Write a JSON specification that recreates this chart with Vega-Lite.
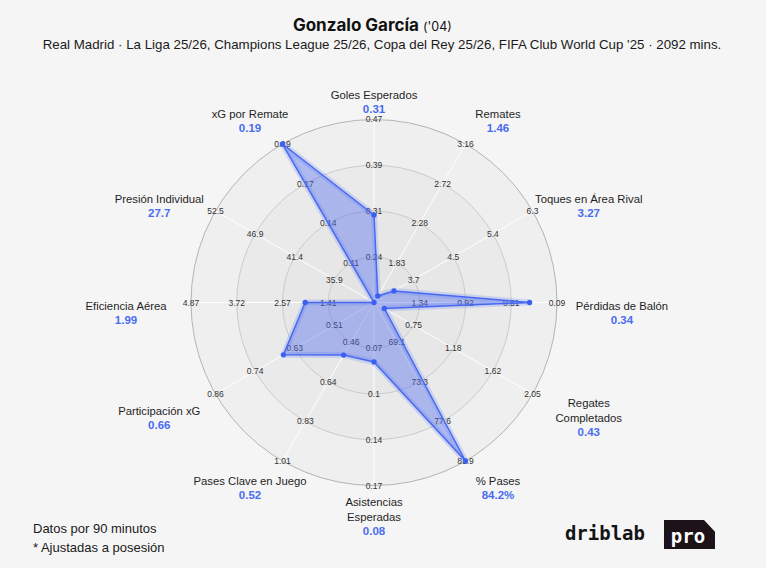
{
  "$schema": "https://vega.github.io/schema/vega-lite/v6.json",
  "width": 766,
  "height": 568,
  "padding": 0,
  "autosize": {"type": "none"},
  "background": "#f5f5f5",
  "config": {"view": {"stroke": null}, "text": {"font": "Liberation Sans"}},
  "datasets": {
    "rings": [{"k": 4}, {"k": 3}, {"k": 2}, {"k": 1}],
    "axes": [
      {"i": 0, "name": "Goles Esperados", "val": "0.31", "v": 0.31, "lo": 0.24, "hi": 0.47, "lines": 1},
      {"i": 1, "name": "Remates", "val": "1.46", "v": 1.46, "lo": 1.83, "hi": 3.16, "lines": 1},
      {"i": 2, "name": "Toques en Área Rival", "val": "3.27", "v": 3.27, "lo": 3.7, "hi": 6.3, "lines": 1},
      {"i": 3, "name": "Pérdidas de Balón", "val": "0.34", "v": 0.34, "lo": 1.34, "hi": 0.09, "lines": 1},
      {"i": 4, "name": "Regates\nCompletados", "val": "0.43", "v": 0.43, "lo": 0.75, "hi": 2.05, "lines": 2},
      {"i": 5, "name": "% Pases", "val": "84.2%", "v": 84.2, "lo": 69.1, "hi": 81.9, "lines": 1},
      {"i": 6, "name": "Asistencias\nEsperadas", "val": "0.08", "v": 0.08, "lo": 0.07, "hi": 0.17, "lines": 2},
      {"i": 7, "name": "Pases Clave en Juego", "val": "0.52", "v": 0.52, "lo": 0.46, "hi": 1.01, "lines": 1},
      {"i": 8, "name": "Participación xG", "val": "0.66", "v": 0.66, "lo": 0.51, "hi": 0.86, "lines": 1},
      {"i": 9, "name": "Eficiencia Aérea", "val": "1.99", "v": 1.99, "lo": 1.41, "hi": 4.87, "lines": 1},
      {"i": 10, "name": "Presión Individual", "val": "27.7", "v": 27.7, "lo": 35.9, "hi": 52.5, "lines": 1},
      {"i": 11, "name": "xG por Remate", "val": "0.19", "v": 0.19, "lo": 0.11, "hi": 0.19, "lines": 1}
    ],
    "ticks": [
      {"i": 0, "k": 1, "t": "0.24"}, {"i": 0, "k": 2, "t": "0.31"}, {"i": 0, "k": 3, "t": "0.39"}, {"i": 0, "k": 4, "t": "0.47"},
      {"i": 1, "k": 1, "t": "1.83"}, {"i": 1, "k": 2, "t": "2.28"}, {"i": 1, "k": 3, "t": "2.72"}, {"i": 1, "k": 4, "t": "3.16"},
      {"i": 2, "k": 1, "t": "3.7"}, {"i": 2, "k": 2, "t": "4.5"}, {"i": 2, "k": 3, "t": "5.4"}, {"i": 2, "k": 4, "t": "6.3"},
      {"i": 3, "k": 1, "t": "1.34"}, {"i": 3, "k": 2, "t": "0.92"}, {"i": 3, "k": 3, "t": "0.51"}, {"i": 3, "k": 4, "t": "0.09"},
      {"i": 4, "k": 1, "t": "0.75"}, {"i": 4, "k": 2, "t": "1.18"}, {"i": 4, "k": 3, "t": "1.62"}, {"i": 4, "k": 4, "t": "2.05"},
      {"i": 5, "k": 1, "t": "69.1"}, {"i": 5, "k": 2, "t": "73.3"}, {"i": 5, "k": 3, "t": "77.6"}, {"i": 5, "k": 4, "t": "81.9"},
      {"i": 6, "k": 1, "t": "0.07"}, {"i": 6, "k": 2, "t": "0.1"}, {"i": 6, "k": 3, "t": "0.14"}, {"i": 6, "k": 4, "t": "0.17"},
      {"i": 7, "k": 1, "t": "0.46"}, {"i": 7, "k": 2, "t": "0.64"}, {"i": 7, "k": 3, "t": "0.83"}, {"i": 7, "k": 4, "t": "1.01"},
      {"i": 8, "k": 1, "t": "0.51"}, {"i": 8, "k": 2, "t": "0.63"}, {"i": 8, "k": 3, "t": "0.74"}, {"i": 8, "k": 4, "t": "0.86"},
      {"i": 9, "k": 1, "t": "1.41"}, {"i": 9, "k": 2, "t": "2.57"}, {"i": 9, "k": 3, "t": "3.72"}, {"i": 9, "k": 4, "t": "4.87"},
      {"i": 10, "k": 1, "t": "35.9"}, {"i": 10, "k": 2, "t": "41.4"}, {"i": 10, "k": 3, "t": "46.9"}, {"i": 10, "k": 4, "t": "52.5"},
      {"i": 11, "k": 1, "t": "0.11"}, {"i": 11, "k": 2, "t": "0.14"}, {"i": 11, "k": 3, "t": "0.17"}, {"i": 11, "k": 4, "t": "0.19"}
    ]
  },
  "layer": [
    {
      "data": {"name": "rings"},
      "mark": {"type": "point", "shape": "circle", "filled": true, "strokeWidth": 1, "opacity": 1},
      "encoding": {
        "x": {"datum": 0, "type": "quantitative", "scale": {"domain": [-2.0437, 2.1421], "nice": false, "zero": false}, "axis": null},
        "y": {"datum": 0, "type": "quantitative", "scale": {"domain": [-1.4508, 1.653], "nice": false, "zero": false}, "axis": null},
        "size": {"field": "k", "type": "quantitative", "scale": {"type": "pow", "exponent": 2, "domain": [0, 4], "range": [0, 133956]}, "legend": null},
        "fill": {"field": "k", "type": "ordinal", "scale": {"domain": [1, 2, 3, 4], "range": ["#e4e4e4", "#e7e7e7", "#eaeaea", "#efefef"]}, "legend": null},
        "stroke": {"field": "k", "type": "ordinal", "scale": {"domain": [1, 2, 3, 4], "range": ["#cbcbcb", "#cbcbcb", "#cbcbcb", "#b4b4b4"]}, "legend": null}
      }
    },
    {
      "data": {"name": "axes"},
      "transform": [
        {"calculate": "datum.i * PI / 6", "as": "a"},
        {"calculate": "sin(datum.a)", "as": "ex"},
        {"calculate": "cos(datum.a)", "as": "ey"},
        {"calculate": "0", "as": "o"}
      ],
      "mark": {"type": "rule", "stroke": "#ffffff", "strokeWidth": 1},
      "encoding": {
        "x": {"field": "ex", "type": "quantitative", "scale": {"domain": [-2.0437, 2.1421], "nice": false, "zero": false}, "axis": null},
        "y": {"field": "ey", "type": "quantitative", "scale": {"domain": [-1.4508, 1.653], "nice": false, "zero": false}, "axis": null},
        "x2": {"field": "o"},
        "y2": {"field": "o"}
      }
    },
    {
      "data": {"name": "ticks"},
      "transform": [
        {"calculate": "datum.i * PI / 6", "as": "a"},
        {"calculate": "datum.k / 4 * sin(datum.a)", "as": "tx"},
        {"calculate": "datum.k / 4 * cos(datum.a)", "as": "ty"}
      ],
      "mark": {"type": "text", "fontSize": 8.5, "fill": "#333333", "align": "center", "baseline": "middle"},
      "encoding": {
        "x": {"field": "tx", "type": "quantitative", "scale": {"domain": [-2.0437, 2.1421], "nice": false, "zero": false}, "axis": null},
        "y": {"field": "ty", "type": "quantitative", "scale": {"domain": [-1.4508, 1.653], "nice": false, "zero": false}, "axis": null},
        "text": {"field": "t"}
      }
    },
    {
      "data": {"name": "axes"},
      "transform": [
        {"calculate": "datum.i * PI / 6", "as": "a"},
        {"calculate": "clamp(0.25 + 0.75 * (datum.v - datum.lo) / (datum.hi - datum.lo), 0, 1)", "as": "r"},
        {"calculate": "datum.r * sin(datum.a)", "as": "px"},
        {"calculate": "datum.r * cos(datum.a)", "as": "py"}
      ],
      "layer": [
        {
          "mark": {"type": "line", "interpolate": "linear-closed", "stroke": "#5b7bff", "strokeWidth": 6, "strokeOpacity": 0.22, "strokeJoin": "round"},
          "encoding": {
            "x": {"field": "px", "type": "quantitative", "scale": {"domain": [-2.0437, 2.1421], "nice": false, "zero": false}, "axis": null},
            "y": {"field": "py", "type": "quantitative", "scale": {"domain": [-1.4508, 1.653], "nice": false, "zero": false}, "axis": null},
            "order": {"field": "i", "type": "quantitative"}
          }
        },
        {
          "mark": {"type": "line", "interpolate": "linear-closed", "fill": "#4d6cf0", "fillOpacity": 0.4, "stroke": "#4868ef", "strokeWidth": 1.5, "strokeJoin": "round"},
          "encoding": {
            "x": {"field": "px", "type": "quantitative", "scale": {"domain": [-2.0437, 2.1421], "nice": false, "zero": false}, "axis": null},
            "y": {"field": "py", "type": "quantitative", "scale": {"domain": [-1.4508, 1.653], "nice": false, "zero": false}, "axis": null},
            "order": {"field": "i", "type": "quantitative"}
          }
        },
        {
          "mark": {"type": "point", "filled": true, "size": 28, "fill": "#3d5ff0", "opacity": 1},
          "encoding": {
            "x": {"field": "px", "type": "quantitative", "scale": {"domain": [-2.0437, 2.1421], "nice": false, "zero": false}, "axis": null},
            "y": {"field": "py", "type": "quantitative", "scale": {"domain": [-1.4508, 1.653], "nice": false, "zero": false}, "axis": null}
          }
        }
      ]
    },
    {
      "data": {"name": "axes"},
      "transform": [
        {"calculate": "datum.i * PI / 6", "as": "a"},
        {"calculate": "(210.8 * cos(datum.a) - 7 + 3.58 * cos(2 * datum.a) - 1.67 * cos(3 * datum.a) - 1.75 * cos(4 * datum.a) - 1.65 * cos(5 * datum.a) - 1.83 * cos(6 * datum.a)) / 183", "as": "cy"},
        {"calculate": "1.355 * sin(datum.a)", "as": "nx"},
        {"calculate": "datum.cy + (7.5 * datum.lines - 4) / 183", "as": "ny"},
        {"calculate": "datum.cy - 7.5 * datum.lines / 183", "as": "vy"}
      ],
      "layer": [
        {
          "mark": {"type": "text", "fontSize": 11.3, "fill": "#1f1f1f", "align": "center", "baseline": "alphabetic", "lineBreak": "\n", "lineHeight": 15},
          "encoding": {
            "x": {"field": "nx", "type": "quantitative", "scale": {"domain": [-2.0437, 2.1421], "nice": false, "zero": false}, "axis": null},
            "y": {"field": "ny", "type": "quantitative", "scale": {"domain": [-1.4508, 1.653], "nice": false, "zero": false}, "axis": null},
            "text": {"field": "name"}
          }
        },
        {
          "mark": {"type": "text", "fontSize": 11.5, "fontWeight": "bold", "fill": "#4a6cf0", "align": "center", "baseline": "middle"},
          "encoding": {
            "x": {"field": "nx", "type": "quantitative", "scale": {"domain": [-2.0437, 2.1421], "nice": false, "zero": false}, "axis": null},
            "y": {"field": "vy", "type": "quantitative", "scale": {"domain": [-1.4508, 1.653], "nice": false, "zero": false}, "axis": null},
            "text": {"field": "val"}
          }
        }
      ]
    },
    {
      "data": {"values": [{}]},
      "layer": [
        {
          "mark": {"type": "text", "text": "Gonzalo García", "font": "Inter", "fontSize": 17, "fontWeight": "bold", "fill": "#111111", "align": "right", "baseline": "alphabetic"},
          "encoding": {
            "x": {"datum": 0.2459, "type": "quantitative", "scale": {"domain": [-2.0437, 2.1421], "nice": false, "zero": false}, "axis": null},
            "y": {"datum": 1.4852, "type": "quantitative", "scale": {"domain": [-1.4508, 1.653], "nice": false, "zero": false}, "axis": null}
          }
        },
        {
          "mark": {"type": "text", "text": "('04)", "font": "Inter", "fontSize": 12.5, "fill": "#111111", "align": "left", "baseline": "alphabetic"},
          "encoding": {
            "x": {"datum": 0.2678, "type": "quantitative", "scale": {"domain": [-2.0437, 2.1421], "nice": false, "zero": false}, "axis": null},
            "y": {"datum": 1.4852, "type": "quantitative", "scale": {"domain": [-1.4508, 1.653], "nice": false, "zero": false}, "axis": null}
          }
        },
        {
          "mark": {"type": "text", "text": "Real Madrid · La Liga 25/26, Champions League 25/26, Copa del Rey 25/26, FIFA Club World Cup '25 · 2092 mins.", "fontSize": 13.3, "fill": "#1a1a1a", "align": "center", "baseline": "alphabetic"},
          "encoding": {
            "x": {"datum": 0.0437, "type": "quantitative", "scale": {"domain": [-2.0437, 2.1421], "nice": false, "zero": false}, "axis": null},
            "y": {"datum": 1.3852, "type": "quantitative", "scale": {"domain": [-1.4508, 1.653], "nice": false, "zero": false}, "axis": null}
          }
        },
        {
          "mark": {"type": "text", "text": ["Datos por 90 minutos", "* Ajustadas a posesión"], "fontSize": 13, "fill": "#1a1a1a", "align": "left", "baseline": "alphabetic", "lineHeight": 19},
          "encoding": {
            "x": {"datum": -1.8634, "type": "quantitative", "scale": {"domain": [-2.0437, 2.1421], "nice": false, "zero": false}, "axis": null},
            "y": {"datum": -1.2596, "type": "quantitative", "scale": {"domain": [-1.4508, 1.653], "nice": false, "zero": false}, "axis": null}
          }
        },
        {
          "mark": {"type": "point", "shape": "M-1,-0.569L0.57,-0.569L1,-0.11L1,0.569L-1,0.569Z", "size": 2601, "filled": true, "fill": "#1c1218", "opacity": 1},
          "encoding": {
            "x": {"datum": 1.724, "type": "quantitative", "scale": {"domain": [-2.0437, 2.1421], "nice": false, "zero": false}, "axis": null},
            "y": {"datum": -1.2678, "type": "quantitative", "scale": {"domain": [-1.4508, 1.653], "nice": false, "zero": false}, "axis": null}
          }
        },
        {
          "mark": {"type": "text", "text": "driblab", "font": "DejaVu Sans Mono", "fontWeight": "bold", "fontSize": 19, "fill": "#141414", "align": "center", "baseline": "alphabetic"},
          "encoding": {
            "x": {"datum": 1.262, "type": "quantitative", "scale": {"domain": [-2.0437, 2.1421], "nice": false, "zero": false}, "axis": null},
            "y": {"datum": -1.2978, "type": "quantitative", "scale": {"domain": [-1.4508, 1.653], "nice": false, "zero": false}, "axis": null}
          }
        },
        {
          "mark": {"type": "text", "text": "pro", "font": "DejaVu Sans Mono", "fontWeight": "bold", "fontSize": 19, "fill": "#ffffff", "align": "center", "baseline": "alphabetic"},
          "encoding": {
            "x": {"datum": 1.7158, "type": "quantitative", "scale": {"domain": [-2.0437, 2.1421], "nice": false, "zero": false}, "axis": null},
            "y": {"datum": -1.3142, "type": "quantitative", "scale": {"domain": [-1.4508, 1.653], "nice": false, "zero": false}, "axis": null}
          }
        }
      ]
    }
  ]
}
